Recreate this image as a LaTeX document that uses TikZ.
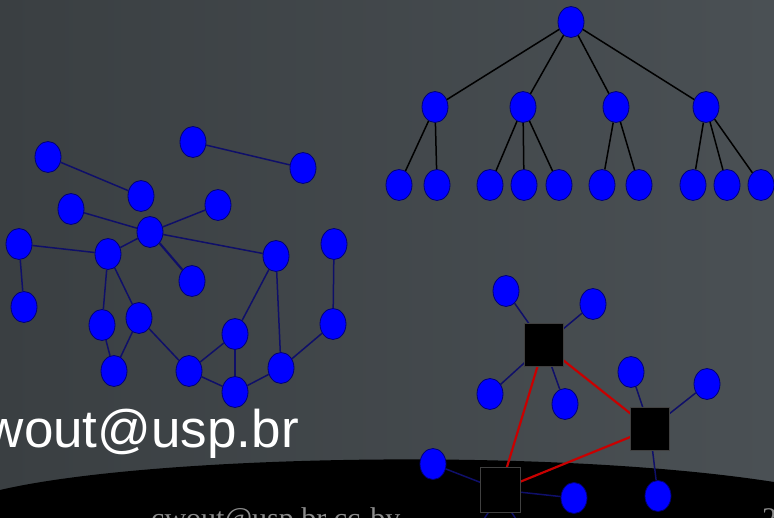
\documentclass[tikz,border=0pt]{standalone}
\usepackage{fontspec}
\usepackage{xcolor}
\usepackage{tikz}
\usetikzlibrary{shapes,shapes.geometric,positioning,calc}
\setmainfont{Liberation Serif}
\newfontfamily\mailfont{Liberation Sans}

\definecolor{slateL}{RGB}{58,63,66}
\definecolor{slateR}{RGB}{74,80,84}
\definecolor{dotblue}{RGB}{0,0,255}
\definecolor{dotrim}{RGB}{0,0,120}
\definecolor{navyline}{RGB}{15,15,105}
\definecolor{trunkred}{RGB}{200,0,0}
\definecolor{footgray}{RGB}{140,140,140}

\tikzset{
  vertex/.style={ellipse, draw=dotrim, fill=dotblue, line width=0.8pt,
    minimum width=26pt, minimum height=31pt, inner sep=0pt},
  hub/.style={rectangle, draw=black!75, fill=black, line width=0.6pt,
    minimum width=39pt, minimum height=43pt, inner sep=0pt},
  treelink/.style={draw=black, line width=1.5pt},
  link/.style={draw=navyline, line width=1.5pt},
  trunk/.style={draw=trunkred, line width=2.2pt}
}

\begin{document}
\begin{tikzpicture}[x=1pt, y=-1pt]
    % slide background
    \useasboundingbox (0,0) rectangle (774,518);
    \shade[left color=slateL, right color=slateR] (0,0) rectangle (774,518);
    \fill[black] (0,490) .. controls (150,455) and (550,447) .. (774,482)
        -- (774,518) -- (0,518) -- cycle;

    % tree
    \node [vertex] (root) at (571,22) {};
    \node [vertex] (ta) at (435,107) {};
    \node [vertex] (tb) at (523,107) {};
    \node [vertex] (tc) at (616,107) {};
    \node [vertex] (td) at (706,107) {};
    \node [vertex] (la1) at (399,185) {};
    \node [vertex] (la2) at (437,185) {};
    \node [vertex] (lb1) at (490,185) {};
    \node [vertex] (lb2) at (524,185) {};
    \node [vertex] (lb3) at (559,185) {};
    \node [vertex] (lc1) at (602,185) {};
    \node [vertex] (lc2) at (639,185) {};
    \node [vertex] (ld1) at (693,185) {};
    \node [vertex] (ld2) at (727,185) {};
    \node [vertex] (ld3) at (761,185) {};

    \draw [treelink] (root) -- (ta);
    \draw [treelink] (root) -- (tb);
    \draw [treelink] (root) -- (tc);
    \draw [treelink] (root) -- (td);
    \draw [treelink] (ta) -- (la1);
    \draw [treelink] (ta) -- (la2);
    \draw [treelink] (tb) -- (lb1);
    \draw [treelink] (tb) -- (lb2);
    \draw [treelink] (tb) -- (lb3);
    \draw [treelink] (tc) -- (lc1);
    \draw [treelink] (tc) -- (lc2);
    \draw [treelink] (td) -- (ld1);
    \draw [treelink] (td) -- (ld2);
    \draw [treelink] (td) -- (ld3);

    % random graph
    \node [vertex] (a) at (48,157) {};
    \node [vertex] (b) at (141,196) {};
    \node [vertex] (c) at (193,142) {};
    \node [vertex] (d) at (303,168) {};
    \node [vertex] (e) at (71,209) {};
    \node [vertex] (f) at (218,205) {};
    \node [vertex] (g) at (150,232) {};
    \node [vertex] (h) at (19,244) {};
    \node [vertex] (i) at (108,254) {};
    \node [vertex] (j) at (276,256) {};
    \node [vertex] (k) at (334,244) {};
    \node [vertex] (l) at (192,281) {};
    \node [vertex] (m) at (24,307) {};
    \node [vertex] (n) at (102,325) {};
    \node [vertex] (o) at (139,318) {};
    \node [vertex] (p) at (235,334) {};
    \node [vertex] (q) at (333,324) {};
    \node [vertex] (r) at (114,371) {};
    \node [vertex] (s) at (189,371) {};
    \node [vertex] (t) at (235,392) {};
    \node [vertex] (u) at (281,368) {};

    \draw [link] (a) -- (b);
    \draw [link] (c) -- (d);
    \draw [link] (e) -- (g);
    \draw [link] (g) -- (f);
    \draw [link] (h) -- (i);
    \draw [link] (i) -- (g);
    \draw [link] (g) -- (j);
    \draw [link, line width=2.2pt] (g) -- (l);
    \draw [link] (h) -- (m);
    \draw [link] (k) -- (q);
    \draw [link] (i) -- (n);
    \draw [link] (i) -- (o);
    \draw [link] (n) -- (r);
    \draw [link] (o) -- (r);
    \draw [link] (o) -- (s);
    \draw [link] (s) -- (p);
    \draw [link] (p) -- (t);
    \draw [link] (s) -- (t);
    \draw [link] (t) -- (u);
    \draw [link] (u) -- (j);
    \draw [link] (p) -- (j);
    \draw [link] (u) -- (q);

    % email and footer
    \node [anchor=base east, inner sep=0pt, text=white] (mail) at (299,448)
        {\mailfont\fontsize{53}{60}\selectfont wout@usp.br};
    \node [anchor=base west, inner sep=0pt, text=footgray] (foot) at (151,528)
        {\fontsize{30}{36}\selectfont cwout@usp.br cc-by};
    \node [anchor=base west, inner sep=0pt, text=footgray] (page) at (762,528)
        {\fontsize{30}{36}\selectfont 2};

    % star network
    \coordinate (offl) at (470,540);
    \coordinate (offr) at (530,540);
    \draw [link] ($(500,490)+(-10,20)$) -- (offl);
    \draw [link] ($(500,490)+(10,20)$) -- (offr);

    \node [vertex] (s1) at (506,291) {};
    \node [vertex] (s2) at (593,304) {};
    \node [vertex] (s3) at (490,394) {};
    \node [vertex] (s4) at (565,404) {};
    \node [vertex] (s5) at (631,372) {};
    \node [vertex] (s6) at (707,384) {};
    \node [vertex] (s7) at (658,496) {};
    \node [vertex] (s8) at (433,464) {};
    \node [vertex] (s9) at (574,498) {};

    \draw [link] (544,345) -- (s1);
    \draw [link] (544,345) -- (s2);
    \draw [link] (544,345) -- (s3);
    \draw [link] (544,345) -- (s4);
    \draw [link] (650,429) -- (s5);
    \draw [link] (650,429) -- (s6);
    \draw [link] (650,429) -- (s7);
    \draw [link] (500,490) -- (s8);
    \draw [link] (500,490) -- (s9);

    \draw [trunk] (544,345) -- (650,429);
    \draw [trunk] (544,345) -- (500,490);
    \draw [trunk] (650,429) -- (500,490);

    \node [hub] (hubA) at (544,345) {};
    \node [hub] (hubB) at (650,429) {};
    \node [hub, minimum width=40pt, minimum height=45pt] (hubC) at (500,490) {};
\end{tikzpicture}
\end{document}
